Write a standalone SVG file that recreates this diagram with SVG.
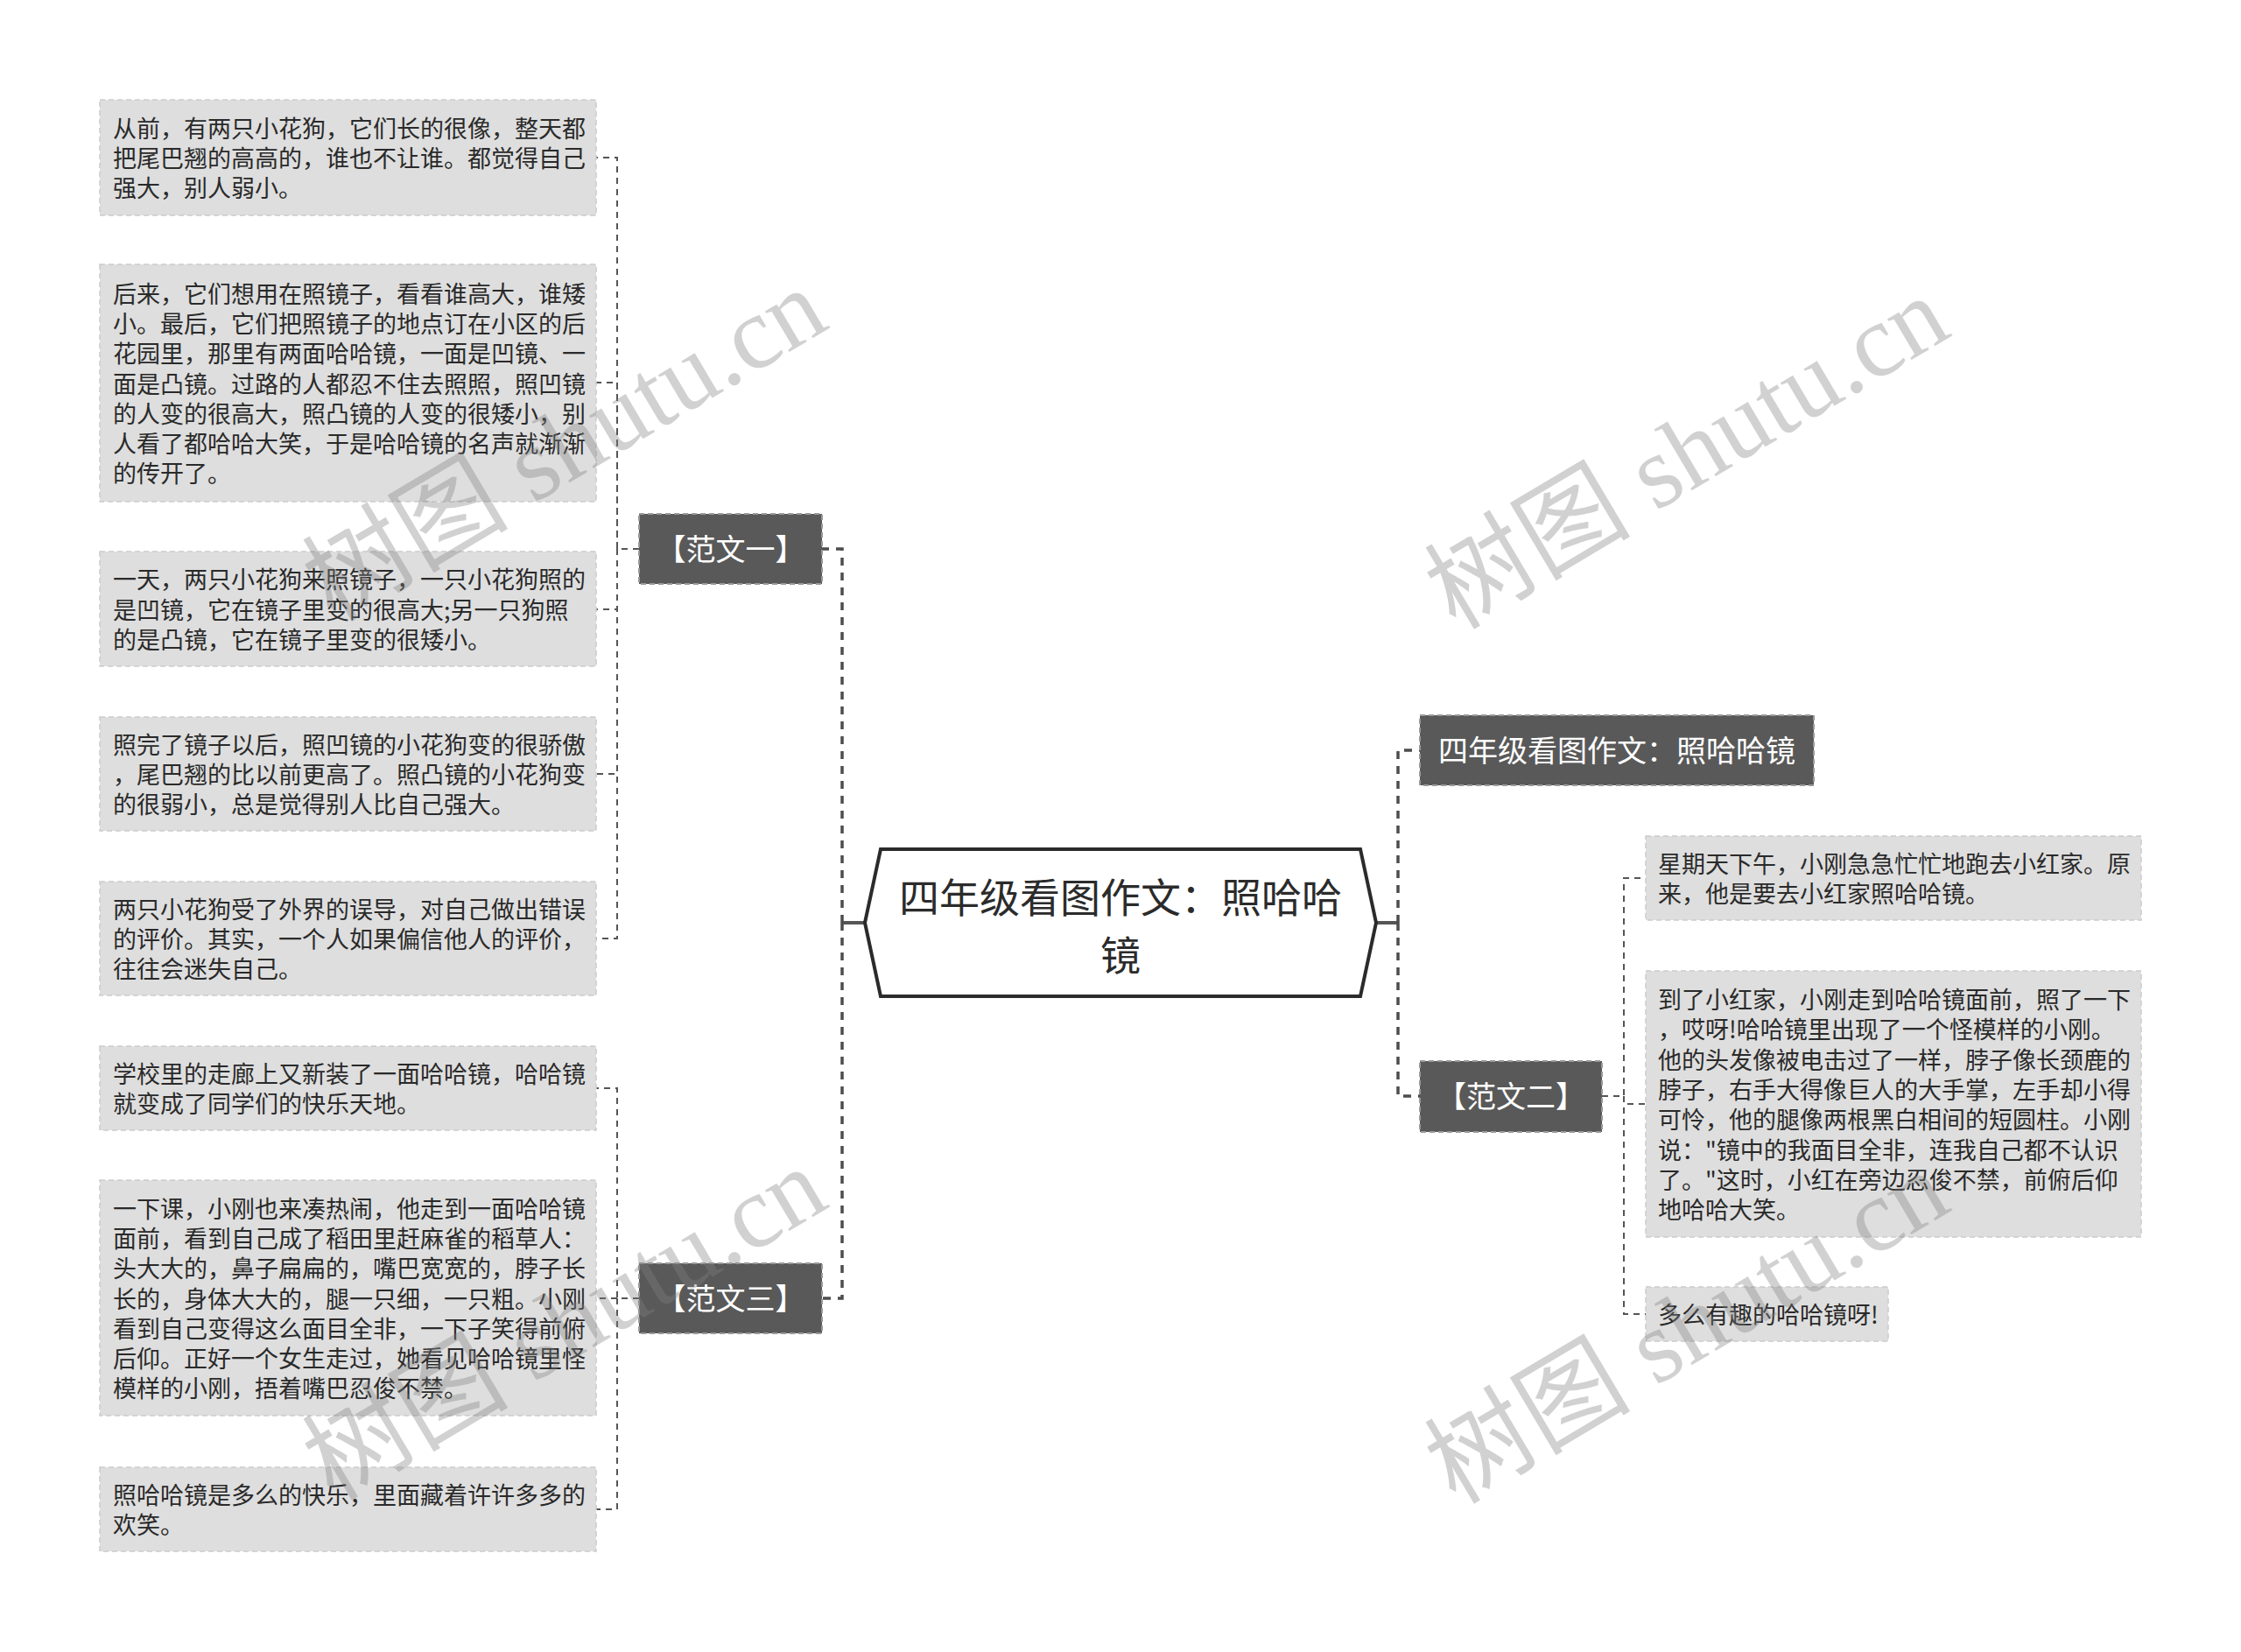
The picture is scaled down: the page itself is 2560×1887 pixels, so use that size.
<svg xmlns="http://www.w3.org/2000/svg" width="2560" height="1887" viewBox="0 0 2560 1887">
<style>
.bg{fill:#ffffff}
.box{fill:#dedede;stroke:#cbcbcb;stroke-width:1.5;stroke-dasharray:6 4}
.dark{fill:#595959;stroke:#9a9a9a;stroke-width:2;stroke-dasharray:6 4}
.hex{fill:#ffffff;stroke:#2b2b2b;stroke-width:4;stroke-linejoin:miter}
.t{font-family:"Noto Sans CJK SC","Liberation Sans",sans-serif;font-size:27px;fill:#2a2a2a}
.dt{font-family:"Noto Sans CJK SC","Liberation Sans",sans-serif;font-size:34px;fill:#ffffff;text-anchor:middle}
.ct{font-family:"Noto Sans CJK SC","Liberation Sans",sans-serif;font-size:46px;fill:#2b2b2b;text-anchor:middle}
.c1{fill:none;stroke:#4d4d4d;stroke-width:3.5;stroke-dasharray:9 8}
.c2{fill:none;stroke:#555555;stroke-width:2;stroke-dasharray:7 6}
.stub{fill:none;stroke:#555555;stroke-width:4}
.wm{font-family:"Liberation Serif","Noto Sans CJK SC",serif;font-size:118px;fill:#808080;fill-opacity:0.36;text-anchor:middle}
</style>
<rect class="bg" x="0" y="0" width="2560" height="1887"/>

<g id="connectors">
  <path class="stub" d="M988,1054 H962"/>
  <path class="c1" d="M962,1054 V627 H939"/>
  <path class="c1" d="M962,1054 V1483 H939"/>
  <path class="stub" d="M1572,1054 H1597"/>
  <path class="c1" d="M1597,1054 V857 H1622"/>
  <path class="c1" d="M1597,1054 V1252 H1622"/>

  <path class="c2" d="M730,627 H705 V180 H681"/>
  <path class="c2" d="M705,627 V437 H681"/>
  <path class="c2" d="M705,627 V696 H681"/>
  <path class="c2" d="M705,627 V884 H681"/>
  <path class="c2" d="M705,627 V1072 H681"/>

  <path class="c2" d="M730,1483 H705 V1243 H681"/>
  <path class="c2" d="M705,1483 H681"/>
  <path class="c2" d="M705,1483 V1724 H681"/>

  <path class="c2" d="M1830,1252 H1855 V1003 H1880"/>
  <path class="c2" d="M1855,1252 V1261 H1880"/>
  <path class="c2" d="M1855,1252 V1501 H1880"/>
</g>

<g id="root">
  <polygon class="hex" points="988,1054 1006,970 1554,970 1572,1054 1554,1138 1006,1138"/>
  <text class="ct" x="1280" y="1042">四年级看图作文：照哈哈</text>
  <text class="ct" x="1280" y="1108">镜</text>
</g>

<g id="fanwen1">
  <rect class="dark" x="730" y="587" width="209" height="80"/>
  <text class="dt" x="834.5" y="640">【范文一】</text>
</g>
<g id="fanwen3">
  <rect class="dark" x="730" y="1443" width="209" height="80"/>
  <text class="dt" x="834.5" y="1496">【范文三】</text>
</g>
<g id="title-right">
  <rect class="dark" x="1622" y="817" width="450" height="80"/>
  <text class="dt" x="1847" y="870">四年级看图作文：照哈哈镜</text>
</g>
<g id="fanwen2">
  <rect class="dark" x="1622" y="1212" width="208" height="81"/>
  <text class="dt" x="1726" y="1265">【范文二】</text>
</g>

<g id="a1">
  <rect class="box" x="114" y="114" width="567" height="132"/>
  <text class="t" x="129" y="156.7">从前，有两只小花狗，它们长的很像，整天都</text>
  <text class="t" x="129" y="191">把尾巴翘的高高的，谁也不让谁。都觉得自己</text>
  <text class="t" x="129" y="225.3">强大，别人弱小。</text>
</g>
<g id="a2">
  <rect class="box" x="114" y="302" width="567" height="271"/>
  <text class="t" x="129" y="345.6">后来，它们想用在照镜子，看看谁高大，谁矮</text>
  <text class="t" x="129" y="379.9">小。最后，它们把照镜子的地点订在小区的后</text>
  <text class="t" x="129" y="414.2">花园里，那里有两面哈哈镜，一面是凹镜、一</text>
  <text class="t" x="129" y="448.5">面是凸镜。过路的人都忍不住去照照，照凹镜</text>
  <text class="t" x="129" y="482.8">的人变的很高大，照凸镜的人变的很矮小，别</text>
  <text class="t" x="129" y="517.1">人看了都哈哈大笑，于是哈哈镜的名声就渐渐</text>
  <text class="t" x="129" y="551.4">的传开了。</text>
</g>
<g id="a3">
  <rect class="box" x="114" y="630" width="567" height="131"/>
  <text class="t" x="129" y="672.2">一天，两只小花狗来照镜子，一只小花狗照的</text>
  <text class="t" x="129" y="706.5">是凹镜，它在镜子里变的很高大;另一只狗照</text>
  <text class="t" x="129" y="740.8">的是凸镜，它在镜子里变的很矮小。</text>
</g>
<g id="a4">
  <rect class="box" x="114" y="819" width="567" height="130"/>
  <text class="t" x="129" y="860.7">照完了镜子以后，照凹镜的小花狗变的很骄傲</text>
  <text class="t" x="129" y="895">，尾巴翘的比以前更高了。照凸镜的小花狗变</text>
  <text class="t" x="129" y="929.3">的很弱小，总是觉得别人比自己强大。</text>
</g>
<g id="a5">
  <rect class="box" x="114" y="1007" width="567" height="130"/>
  <text class="t" x="129" y="1048.7">两只小花狗受了外界的误导，对自己做出错误</text>
  <text class="t" x="129" y="1083">的评价。其实，一个人如果偏信他人的评价，</text>
  <text class="t" x="129" y="1117.3">往往会迷失自己。</text>
</g>

<g id="c1">
  <rect class="box" x="114" y="1195" width="567" height="96"/>
  <text class="t" x="129" y="1236.9">学校里的走廊上又新装了一面哈哈镜，哈哈镜</text>
  <text class="t" x="129" y="1271.2">就变成了同学们的快乐天地。</text>
</g>
<g id="c2">
  <rect class="box" x="114" y="1348" width="567" height="269"/>
  <text class="t" x="129" y="1390.6">一下课，小刚也来凑热闹，他走到一面哈哈镜</text>
  <text class="t" x="129" y="1424.9">面前，看到自己成了稻田里赶麻雀的稻草人：</text>
  <text class="t" x="129" y="1459.2">头大大的，鼻子扁扁的，嘴巴宽宽的，脖子长</text>
  <text class="t" x="129" y="1493.5">长的，身体大大的，腿一只细，一只粗。小刚</text>
  <text class="t" x="129" y="1527.8">看到自己变得这么面目全非，一下子笑得前俯</text>
  <text class="t" x="129" y="1562.1">后仰。正好一个女生走过，她看见哈哈镜里怪</text>
  <text class="t" x="129" y="1596.4">模样的小刚，捂着嘴巴忍俊不禁。</text>
</g>
<g id="c3">
  <rect class="box" x="114" y="1676" width="567" height="96"/>
  <text class="t" x="129" y="1717.9">照哈哈镜是多么的快乐，里面藏着许许多多的</text>
  <text class="t" x="129" y="1752.2">欢笑。</text>
</g>

<g id="b1">
  <rect class="box" x="1880" y="955" width="566" height="96"/>
  <text class="t" x="1894" y="996.9">星期天下午，小刚急急忙忙地跑去小红家。原</text>
  <text class="t" x="1894" y="1031.2">来，他是要去小红家照哈哈镜。</text>
</g>
<g id="b2">
  <rect class="box" x="1880" y="1109" width="566" height="304"/>
  <text class="t" x="1894" y="1152">到了小红家，小刚走到哈哈镜面前，照了一下</text>
  <text class="t" x="1894" y="1186.3">，哎呀!哈哈镜里出现了一个怪模样的小刚。</text>
  <text class="t" x="1894" y="1220.6">他的头发像被电击过了一样，脖子像长颈鹿的</text>
  <text class="t" x="1894" y="1254.9">脖子，右手大得像巨人的大手掌，左手却小得</text>
  <text class="t" x="1894" y="1289.2">可怜，他的腿像两根黑白相间的短圆柱。小刚</text>
  <text class="t" x="1894" y="1323.5">说："镜中的我面目全非，连我自己都不认识</text>
  <text class="t" x="1894" y="1357.8">了。"这时，小红在旁边忍俊不禁，前俯后仰</text>
  <text class="t" x="1894" y="1392.1">地哈哈大笑。</text>
</g>
<g id="b3">
  <rect class="box" x="1880" y="1470" width="277" height="62"/>
  <text class="t" x="1894" y="1512">多么有趣的哈哈镜呀!</text>
</g>

<g id="watermarks">
  <text class="wm" transform="translate(645,508) rotate(-30.7)" x="0" y="40">树图 shutu.cn</text>
  <text class="wm" transform="translate(1927,517) rotate(-30.7)" x="0" y="40">树图 shutu.cn</text>
  <text class="wm" transform="translate(645,1512) rotate(-30.7)" x="0" y="40">树图 shutu.cn</text>
  <text class="wm" transform="translate(1927,1516) rotate(-30.7)" x="0" y="40">树图 shutu.cn</text>
</g>
</svg>
